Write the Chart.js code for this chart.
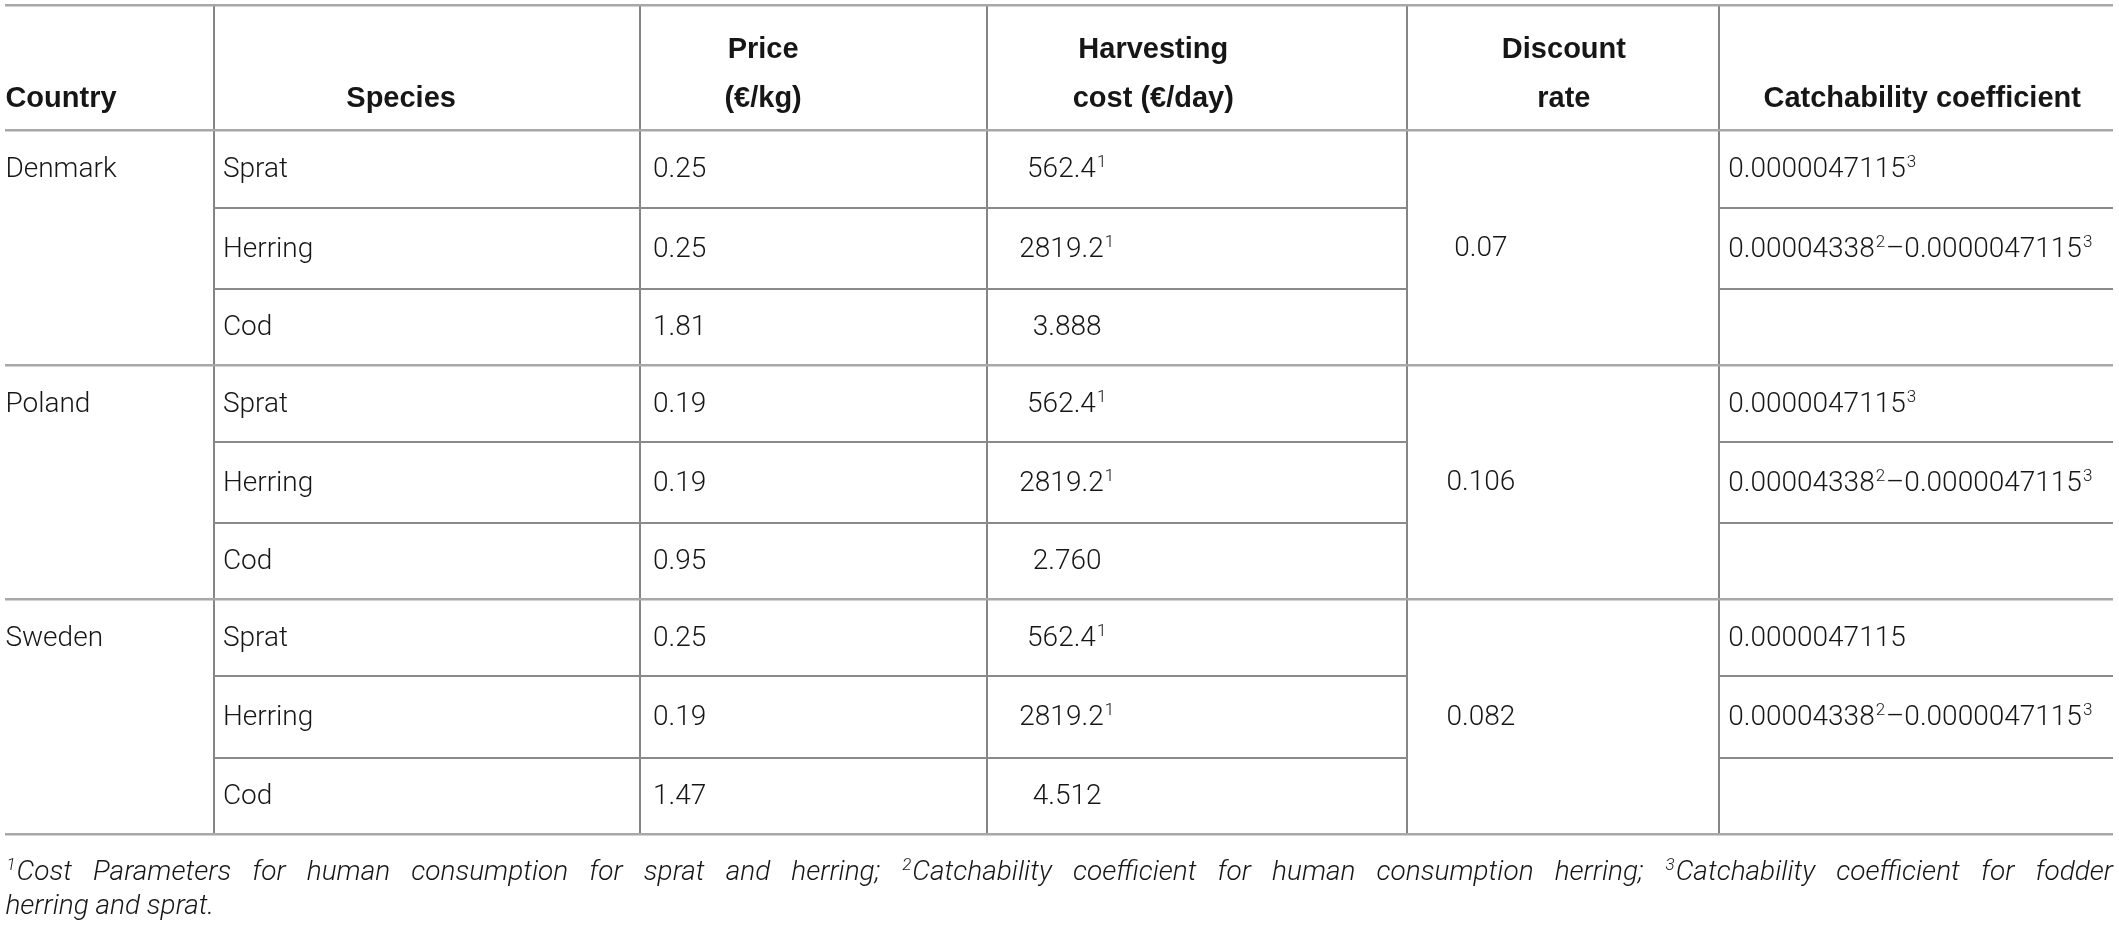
<!DOCTYPE html>
<html>
<head>
<meta charset="utf-8">
<title>Bioeconomic parameters</title>
<script src="https://cdn.jsdelivr.net/npm/chart.js@4.4.1/dist/chart.umd.min.js"></script>
<style>
    html, body { margin: 0; padding: 0; background: #fff; }
    #wrap { width: 2119px; height: 925px; position: relative; }
</style>
</head>
<body>
<div id="wrap"><canvas id="paramTable"></canvas></div>
<script>
// Table content ("^n" marks a superscript footnote number)
const headers = [['Country'], ['Species'], ['Price', '(€/kg)'], ['Harvesting', 'cost (€/day)'], ['Discount', 'rate'], ['Catchability coefficient']];
const countries = ['Denmark', 'Poland', 'Sweden'];
const species = ['Sprat', 'Herring', 'Cod'];
const prices = ['0.25', '0.25', '1.81', '0.19', '0.19', '0.95', '0.25', '0.19', '1.47'];
const harvestCosts = ['562.4^1', '2819.2^1', '3.888', '562.4^1', '2819.2^1', '2.760', '562.4^1', '2819.2^1', '4.512'];
const discountRates = ['0.07', '0.106', '0.082'];
const catchCoefs = [
    '0.0000047115^3', '0.00004338^2–0.0000047115^3', '',
    '0.0000047115^3', '0.00004338^2–0.0000047115^3', '',
    '0.0000047115', '0.00004338^2–0.0000047115^3', ''
];
const footnoteLines = [
    '^1Cost Parameters for human consumption for sprat and herring; ^2Catchability coefficient for human consumption herring; ^3Catchability coefficient for fodder',
    'herring and sprat.'
];

// Layout of the grid (table units, 1 unit = 1 px)
const colEdges = [0, 208.2, 634.2, 981.3, 1401.5, 1713.8, 2107.6];
const rowEdges = [0, 125, 202, 283.6, 359.6, 436, 517.6, 593.3, 670.3, 752, 828.6];
const fullLines = [0, 1, 4, 7, 10];      // rows edges drawn across the whole table
const mergedCols = [0, 4];              // columns spanning a whole country block
const headerAnchor = [
    { align: 'left', dx: 0 }, { align: 'center', dx: 187.5 }, { align: 'center', dx: 123.5 },
    { align: 'center', dx: 166.6 }, { align: 'center', dx: 157 }, { align: 'center', dx: 203 }
];
const bodyAnchor = [
    { align: 'left', dx: 0 }, { align: 'left', dx: 9.3 }, { align: 'left', dx: 13.4 },
    { align: 'center', dx: 80.5 }, { align: 'center', dx: 74 }, { align: 'left', dx: 9 }
];
const headerLineY = [42.6, 91];

const FONT_BODY = '300 28px Roboto';
const FONT_SUP = '300 17px Roboto';
const FONT_HEAD = 'bold 29px "Liberation Sans"';
const FONT_NOTE = 'italic 300 28px Roboto';
const FONT_NOTE_SUP = 'italic 300 17px Roboto';

function splitSup(str) {
    const parts = [];
    const re = /\^(\d)/g;
    let last = 0, m;
    while ((m = re.exec(str))) {
        if (m.index > last) parts.push({ t: str.slice(last, m.index), sup: false });
        parts.push({ t: m[1], sup: true });
        last = re.lastIndex;
    }
    if (last < str.length) parts.push({ t: str.slice(last), sup: false });
    return parts;
}

function richWidth(ctx, parts, font, supFont) {
    let w = 0;
    parts.forEach(p => {
        ctx.font = p.sup ? supFont : font;
        w += ctx.measureText(p.t).width + (p.sup ? 2 : 0);
    });
    return w;
}

function drawRich(ctx, str, x, y, align, font, supFont) {
    const parts = splitSup(str);
    let cx = x;
    if (align === 'center') cx = x - richWidth(ctx, parts, font, supFont) / 2;
    parts.forEach(p => {
        ctx.font = p.sup ? supFont : font;
        if (p.sup) cx += 1;
        ctx.fillText(p.t, cx, p.sup ? y - 10 : y);
        cx += ctx.measureText(p.t).width + (p.sup ? 1 : 0);
    });
    return cx;
}

// Points that anchor each cell's text
const headerCells = [];
headers.forEach((lines, c) => {
    lines.forEach((txt, l) => {
        const ly = lines.length === 1 ? headerLineY[1] : headerLineY[l];
        headerCells.push({ x: colEdges[c] + headerAnchor[c].dx, y: ly, text: txt, align: headerAnchor[c].align });
    });
});

const bodyCells = [];
const rowMid = r => (rowEdges[1 + r] + rowEdges[2 + r]) / 2;
const addCell = (c, y, txt) => {
    if (txt) bodyCells.push({ x: colEdges[c] + bodyAnchor[c].dx, y: y, text: txt, align: bodyAnchor[c].align });
};
countries.forEach((name, b) => {
    addCell(0, rowMid(b * 3), name);
    addCell(4, (rowEdges[1 + b * 3] + rowEdges[4 + b * 3]) / 2, discountRates[b]);
    species.forEach((sp, k) => {
        const r = b * 3 + k;
        addCell(1, rowMid(r), sp);
        addCell(2, rowMid(r), prices[r]);
        addCell(3, rowMid(r), harvestCosts[r]);
        addCell(5, rowMid(r), catchCoefs[r]);
    });
});

// Inner row lines that stop at merged columns
const innerLines = {
    id: 'innerLines',
    beforeDatasetsDraw(chart) {
        const { ctx, scales: { x, y } } = chart;
        ctx.save();
        ctx.strokeStyle = '#8a8a8a';
        ctx.lineWidth = 2;
        for (let e = 1; e < rowEdges.length - 1; e++) {
            if (fullLines.includes(e)) continue;
            const py = Math.round(y.getPixelForValue(rowEdges[e]));
            for (let c = 0; c < colEdges.length - 1; c++) {
                if (mergedCols.includes(c)) continue;
                ctx.beginPath();
                ctx.moveTo(x.getPixelForValue(colEdges[c]), py);
                ctx.lineTo(x.getPixelForValue(colEdges[c + 1]), py);
                ctx.stroke();
            }
        }
        ctx.restore();
    }
};

// Cell texts and the footnote
const cellText = {
    id: 'cellText',
    afterDatasetsDraw(chart) {
        const ctx = chart.ctx;
        ctx.save();
        ctx.fillStyle = '#161616';
        ctx.textBaseline = 'alphabetic';
        chart.data.datasets.forEach((ds, i) => {
            const meta = chart.getDatasetMeta(i);
            meta.data.forEach((pt, j) => {
                const cell = ds.data[j];
                drawRich(ctx, cell.text, pt.x, pt.y + ds.baseShift, cell.align, ds.font, FONT_SUP);
            });
        });

        // footnote, justified like the source
        const left = chart.scales.x.getPixelForValue(colEdges[0]);
        const right = chart.scales.x.getPixelForValue(colEdges[colEdges.length - 1]);
        const base = chart.chartArea.bottom;
        footnoteLines.forEach((line, li) => {
            const words = line.split(' ');
            const widths = words.map(w => richWidth(ctx, splitSup(w), FONT_NOTE, FONT_NOTE_SUP));
            const total = widths.reduce((a, b) => a + b, 0);
            const last = li === footnoteLines.length - 1;
            ctx.font = FONT_NOTE;
            const gap = last ? ctx.measureText(' ').width : (right - left - total) / (words.length - 1);
            let cx = left;
            const by = base + 46 + li * 34;
            words.forEach((w, k) => {
                drawRich(ctx, w, cx, by, 'left', FONT_NOTE, FONT_NOTE_SUP);
                cx += widths[k] + gap;
            });
        });
        ctx.restore();
    }
};

const ctx = document.getElementById('paramTable').getContext('2d');
const paramTable = new Chart(ctx, {
    type: 'scatter',
    data: {
        datasets: [
            { data: headerCells, font: FONT_HEAD, baseShift: 10, pointRadius: 0, pointHoverRadius: 0, clip: false },
            { data: bodyCells, font: FONT_BODY, baseShift: 8, pointRadius: 0, pointHoverRadius: 0, clip: false }
        ]
    },
    options: {
        responsive: true,
        maintainAspectRatio: false,
        animation: false,
        events: [],
        layout: { padding: { left: 5.4, right: 6, top: 5.7, bottom: 90.7 } },
        plugins: { legend: { display: false }, tooltip: { enabled: false } },
        scales: {
            x: {
                type: 'linear', min: colEdges[0], max: colEdges[colEdges.length - 1],
                ticks: { display: false },
                grid: { color: '#858585', lineWidth: 2, drawTicks: false },
                border: { display: false },
                afterBuildTicks: scale => { scale.ticks = colEdges.slice(1, -1).map(v => ({ value: v })); }
            },
            y: {
                type: 'linear', reverse: true, min: rowEdges[0], max: rowEdges[rowEdges.length - 1],
                ticks: { display: false },
                grid: { color: '#a8a8a8', lineWidth: 2.5, drawTicks: false },
                border: { display: false },
                afterBuildTicks: scale => { scale.ticks = fullLines.map(e => ({ value: rowEdges[e] })); }
            }
        }
    },
    plugins: [innerLines, cellText]
});
</script>
</body>
</html>
